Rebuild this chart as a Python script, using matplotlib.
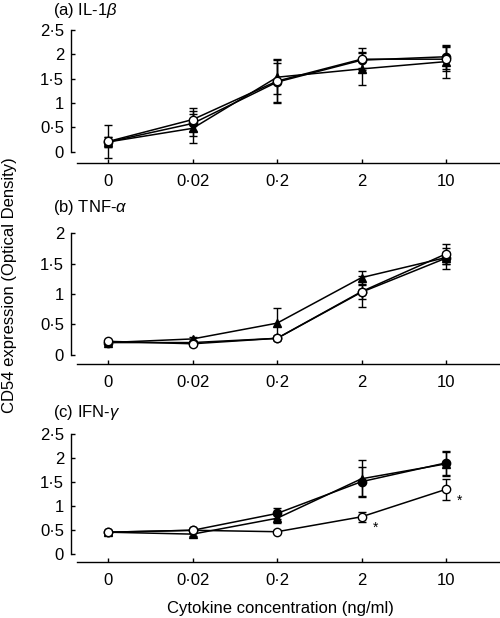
import matplotlib
matplotlib.use('Agg')
import matplotlib.pyplot as plt

plt.rcParams['font.family'] = ['Liberation Sans', 'DejaVu Sans']
plt.rcParams['mathtext.fontset'] = 'custom'
plt.rcParams['mathtext.it'] = 'Liberation Sans:italic'
plt.rcParams['mathtext.rm'] = 'Liberation Sans'

conc_labels = ['0', '0·02', '0·2', '2', '10']
xpos = [0, 1, 2, 3, 4]

# panel (a) IL-1beta
a_open = [0.21, 0.66, 1.45, 1.90, 1.90]
a_open_err = [0.33, 0.23, 0.45, 0.23, 0.25]
a_fill = [0.20, 0.58, 1.43, 1.88, 1.95]
a_fill_err = [0.10, 0.26, 0.40, 0.17, 0.25]
a_tri = [0.20, 0.48, 1.53, 1.70, 1.85]
a_tri_err = [0.10, 0.30, 0.35, 0.33, 0.33]

# panel (b) TNF-alpha
b_open = [0.22, 0.18, 0.27, 1.04, 1.66]
b_open_err = [0.03, 0.03, 0.03, 0.25, 0.17]
b_fill = [0.20, 0.20, 0.27, 1.03, 1.59]
b_fill_err = [0.03, 0.03, 0.03, 0.12, 0.17]
b_tri = [0.20, 0.26, 0.52, 1.27, 1.60]
b_tri_err = [0.03, 0.03, 0.25, 0.11, 0.10]

# panel (c) IFN-gamma
c_open = [0.46, 0.50, 0.47, 0.78, 1.35]
c_open_err = [0.03, 0.03, 0.03, 0.10, 0.22]
c_fill = [0.46, 0.50, 0.85, 1.51, 1.90]
c_fill_err = [0.03, 0.03, 0.12, 0.30, 0.25]
c_tri = [0.46, 0.42, 0.75, 1.57, 1.88]
c_tri_err = [0.03, 0.03, 0.10, 0.38, 0.25]
c_star_idx = [3, 4]

panels = [
    ('(a) IL-1$\\beta$', a_open, a_open_err, a_fill, a_fill_err, a_tri, a_tri_err,
     [0, 0.5, 1, 1.5, 2, 2.5], (-0.238, 2.5), [0.142, 0.7358, 0.858, 0.2157], 10),
    ('(b) TNF-$\\alpha$', b_open, b_open_err, b_fill, b_fill_err, b_tri, b_tri_err,
     [0, 0.5, 1, 1.5, 2], (-0.148, 2.0), [0.142, 0.4115, 0.858, 0.2110], 207),
    ('(c) IFN-$\\gamma$', c_open, c_open_err, c_fill, c_fill_err, c_tri, c_tri_err,
     [0, 0.5, 1, 1.5, 2, 2.5], (-0.153, 2.5), [0.142, 0.0911, 0.858, 0.2066], 412),
]

fs = 12
fig = plt.figure(figsize=(5, 6.18), dpi=100)

for title, yo, eo, yf, ef, yt, et, yticks, ylim, rect, ty in panels:
    ax = fig.add_axes(rect)
    ax.patch.set_alpha(0)
    kw = dict(color='black', lw=1.1, elinewidth=1.0, capsize=3, capthick=1.0, ms=6)
    ax.errorbar(xpos, yt, yerr=et, marker='^', mfc='black', mec='black', **kw)
    ax.errorbar(xpos, yf, yerr=ef, marker='o', mfc='black', mec='black', **kw)
    ax.errorbar(xpos, yo, yerr=eo, marker='o', mfc='white', mec='black', mew=1.0, **kw)
    ax.set_xlim(-0.442, 4.641)
    ax.set_ylim(*ylim)
    ax.set_xticks(xpos)
    ax.set_xticklabels(conc_labels)
    ax.set_yticks(yticks)
    ax.set_yticklabels([('%g' % v).replace('.', '·') for v in yticks])
    for s in ['top', 'right']:
        ax.spines[s].set_visible(False)
    ax.spines['left'].set_bounds(0, yticks[-1])
    ax.spines['bottom'].set_bounds(-0.371, 4.641)
    ax.spines['left'].set_linewidth(1.0)
    ax.spines['bottom'].set_linewidth(1.0)
    ax.tick_params(direction='in', length=3, width=1.0, labelsize=fs)
    ax.tick_params(axis='x', pad=8)
    ax.tick_params(axis='y', pad=5)
    fig.text(53 / 500, 1 - ty / 618, title, fontsize=fs, ha='left', va='center')
    if ty == 412:
        for i in c_star_idx:
            ax.annotate('*', (xpos[i], yo[i]), xytext=(10, -8), textcoords='offset points',
                        fontsize=10, ha='center', va='center')

fig.text(0.02, 1 - 285 / 618, 'CD54 expression (Optical Density)', rotation=90,
         fontsize=fs, ha='center', va='center')
fig.text(280 / 500, 1 - 609 / 618, 'Cytokine concentration (ng/ml)', fontsize=fs,
         ha='center', va='center')

plt.savefig('out.png', dpi=100)
